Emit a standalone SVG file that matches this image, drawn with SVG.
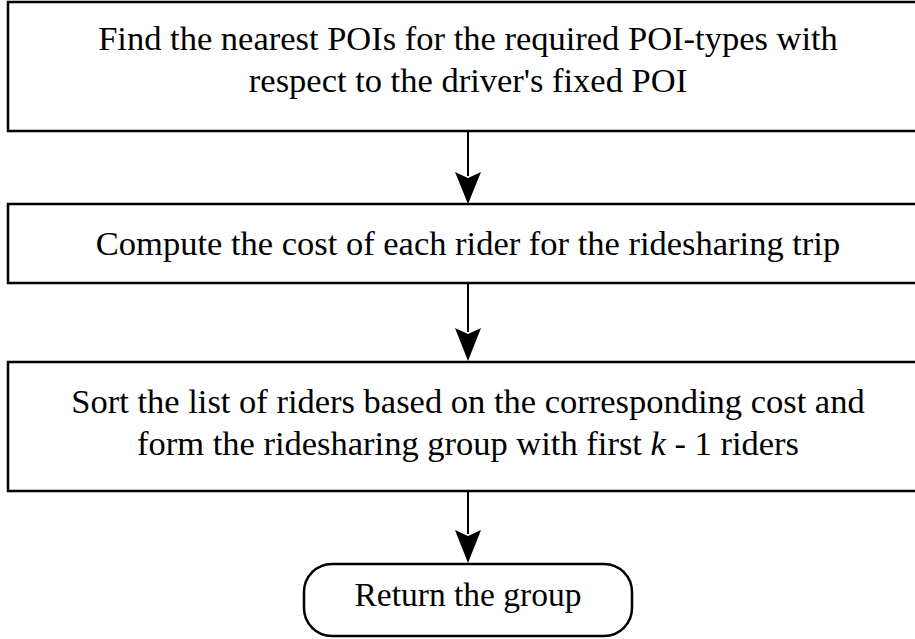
<svg xmlns="http://www.w3.org/2000/svg" width="915" height="639" viewBox="0 0 915 639">
  <style>
    .box { fill: #ffffff; stroke: #000000; stroke-width: 2.5; }
    .lbl { font-family: "Liberation Serif", "Times New Roman", serif; font-size: 34.5px; fill: #000000; text-anchor: middle; }
    .edge { stroke: #000000; stroke-width: 2; fill: none; }
    .head { fill: #000000; }
  </style>
  <rect width="915" height="639" fill="#ffffff"/>

  <!-- vertical flow arrows with notched heads -->
  <g id="connectors">
    <line class="edge" x1="468" y1="131" x2="468" y2="176"/>
    <path class="head" d="M455,172 L468,178 L481,172 L468,204 Z"/>
    <line class="edge" x1="468" y1="283" x2="468" y2="332"/>
    <path class="head" d="M455,328 L468,334 L481,328 L468,361 Z"/>
    <line class="edge" x1="468" y1="491" x2="468" y2="534"/>
    <path class="head" d="M455,530 L468,536 L481,530 L468,563 Z"/>
  </g>

  <g id="find-pois">
    <rect class="box" x="8" y="2" width="920" height="129"/>
    <text class="lbl" x="468" y="50">Find the nearest POIs for the required POI-types with</text>
    <text class="lbl" x="468" y="92">respect to the driver's fixed POI</text>
  </g>

  <g id="compute-cost">
    <rect class="box" x="8" y="204" width="920" height="79"/>
    <text class="lbl" x="468" y="255">Compute the cost of each rider for the ridesharing trip</text>
  </g>

  <g id="sort-riders">
    <rect class="box" x="8" y="362" width="920" height="129"/>
    <text class="lbl" x="468" y="413">Sort the list of riders based on the corresponding cost and</text>
    <text class="lbl" x="468" y="455">form the ridesharing group with first <tspan font-style="italic">k</tspan> - 1 riders</text>
  </g>

  <g id="return-group">
    <rect class="box" x="304" y="564" width="328" height="72" rx="28" ry="28"/>
    <text class="lbl" x="468" y="606" style="font-size:33.5px">Return the group</text>
  </g>
</svg>
